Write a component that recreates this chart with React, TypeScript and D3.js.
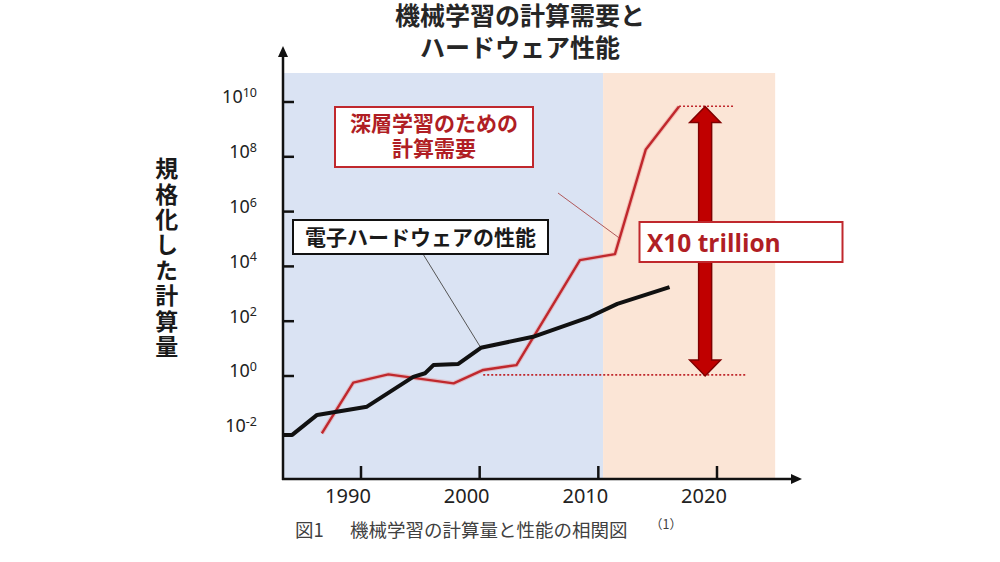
import React from "react";
import * as d3 from "d3";

// ---- Data ----
const titleLines = ["機械学習の計算需要と", "ハードウェア性能"];
const yAxisLabel = "規格化した計算量";
const yTickExponents = [10, 8, 6, 4, 2, 0, -2];
const yTickMarks = [1e10, 1e8, 1e6, 1e4, 1e2, 1];
const xTickYears = [1990, 2000, 2010, 2020];
const eraBounds = [1983.4, 2010.4, 2024.9];

// Electronic hardware performance (black)
const hwYears = [1983.4, 1984.2, 1986.3, 1990.5, 1994.4, 1995.4, 1996.1, 1998.2, 2000.1, 2004.5, 2009.3, 2011.6, 2016.0];
const hwValues = [0.0071, 0.0071, 0.038, 0.076, 0.93, 1.26, 2.5, 2.75, 10.7, 27, 145, 427, 1740];

// Deep learning compute demand (red)
const dlYears = [1986.7, 1989.35, 1992.3, 1997.8, 2000.3, 2003.1, 2008.45, 2011.4, 2014.0, 2016.8];
const dlValues = [0.0081, 0.575, 1.15, 0.54, 1.66, 2.5, 17000, 28000, 1.86e8, 6.8e9];

// Reference (dotted) levels and the x10 trillion arrow
const topRefYears = [2016.8, 2021.35];
const topRefValue = 7.0e9;
const bottomRefYears = [2000.3, 2022.4];
const bottomRefValue = 1.1;
const arrowYear = 2019;
const arrowValues = [1, 6.8e9];

// Leader lines (data-space targets)
const hwLeaderTarget = { year: 2000.1, value: 10.7 };
const dlLeaderTarget = { year: 2011.75, value: 1.1e5 };

const legendDL = ["深層学習のための", "計算需要"];
const legendHW = "電子ハードウェアの性能";
const ratioLabel = "X10 trillion";
const captionMain = "機械学習の計算量と性能の相関図";

const JP = "'Noto Sans CJK JP', 'Noto Sans', sans-serif";
const LAT = "'Noto Sans', 'Open Sans', sans-serif";

export default function App() {
  const x = d3.scaleLinear().domain([1990, 2020]).range([361, 717]);
  const y = d3.scaleLog().domain([1, 1e10]).range([376, 102]);

  const axisX = 283;
  const axisY = 479;
  const plotTop = 73;

  const line = d3
    .line<[number, number]>()
    .x((d) => x(d[0]))
    .y((d) => y(d[1]));

  const hwPts = hwYears.map((yr, i) => [yr, hwValues[i]] as [number, number]);
  const dlPts = dlYears.map((yr, i) => [yr, dlValues[i]] as [number, number]);

  const red = "#c0282d";
  const darkRed = "#b01e24";

  // Arrow polygon
  const cx = x(arrowYear);
  const yT = y(arrowValues[1]);
  const yB = y(arrowValues[0]);
  const hw = 15.5;
  const sw = 6.5;
  const hl = 16;
  const arrowPts = [
    [cx, yT],
    [cx + hw, yT + hl],
    [cx + sw, yT + hl],
    [cx + sw, yB - hl],
    [cx + hw, yB - hl],
    [cx, yB],
    [cx - hw, yB - hl],
    [cx - sw, yB - hl],
    [cx - sw, yT + hl],
    [cx - hw, yT + hl],
  ]
    .map((p) => p.join(","))
    .join(" ");

  return (
    <svg
      width={1000}
      height={562}
      style={{ position: "absolute", left: 0, top: 0, background: "#fff" }}
    >
      {/* Title */}
      <text
        textAnchor="middle"
        fontFamily={JP}
        fontWeight={700}
        fontSize={25}
        fill="#262626"
      >
        {titleLines.map((t, i) => (
          <tspan key={t} x={520} y={24.5 + i * 32.5}>
            {t}
          </tspan>
        ))}
      </text>

      {/* Era backgrounds */}
      <rect
        x={x(eraBounds[0])}
        y={plotTop}
        width={x(eraBounds[1]) - x(eraBounds[0])}
        height={axisY - plotTop}
        fill="#dae3f3"
      />
      <rect
        x={x(eraBounds[1])}
        y={plotTop}
        width={x(eraBounds[2]) - x(eraBounds[1])}
        height={axisY - plotTop}
        fill="#fbe5d6"
      />

      {/* Y axis label (vertical) */}
      <text
        x={166.7}
        y={157}
        style={{ writingMode: "vertical-rl" as any, letterSpacing: "2.4px" }}
        fontFamily={JP}
        fontWeight={700}
        fontSize={23}
        fill="#1a1a1a"
      >
        {yAxisLabel}
      </text>

      {/* Y tick labels */}
      {yTickExponents.map((e) => {
        const ty = y(Math.pow(10, e));
        return (
          <text
            key={e}
            x={257}
            y={ty + 1.4}
            textAnchor="end"
            fontFamily={LAT}
            fontSize={18}
            fill="#222"
          >
            <tspan>10</tspan>
            <tspan dy={-6.5} fontSize={12.5}>
              {e < 0 ? `-${Math.abs(e)}` : `${e}`}
            </tspan>
          </text>
        );
      })}

      {/* Y tick marks */}
      {yTickMarks.map((v) => (
        <line
          key={v}
          x1={axisX}
          x2={axisX + 11}
          y1={y(v)}
          y2={y(v)}
          stroke="#111"
          strokeWidth={2.5}
        />
      ))}

      {/* X tick marks and labels */}
      {xTickYears.map((yr) => (
        <g key={yr}>
          <line
            x1={x(yr)}
            x2={x(yr)}
            y1={axisY}
            y2={axisY - 13}
            stroke="#111"
            strokeWidth={2.5}
          />
          <text
            x={x(yr) - 13}
            y={503}
            textAnchor="middle"
            fontFamily={LAT}
            fontSize={20}
            fill="#222"
          >
            {yr}
          </text>
        </g>
      ))}

      {/* Dotted reference lines */}
      <line
        x1={x(topRefYears[0])}
        x2={x(topRefYears[1])}
        y1={y(topRefValue)}
        y2={y(topRefValue)}
        stroke={red}
        strokeWidth={1.6}
        strokeDasharray="2 2"
      />
      <line
        x1={x(bottomRefYears[0])}
        x2={x(bottomRefYears[1])}
        y1={y(bottomRefValue)}
        y2={y(bottomRefValue)}
        stroke={red}
        strokeWidth={1.6}
        strokeDasharray="2 2"
      />

      {/* Leader lines */}
      <line
        x1={423}
        y1={254}
        x2={x(hwLeaderTarget.year)}
        y2={y(hwLeaderTarget.value)}
        stroke="#555"
        strokeWidth={1}
      />
      <line
        x1={558}
        y1={193}
        x2={x(dlLeaderTarget.year)}
        y2={y(dlLeaderTarget.value)}
        stroke="#b0585a"
        strokeWidth={1}
      />

      {/* DL compute line (red) */}
      <path
        d={line(dlPts) || ""}
        fill="none"
        stroke="rgba(230,120,120,0.35)"
        strokeWidth={4.5}
        strokeLinejoin="round"
      />
      <path
        d={line(dlPts) || ""}
        fill="none"
        stroke={red}
        strokeWidth={2.4}
        strokeLinejoin="round"
      />

      {/* HW performance line (black) */}
      <path
        d={line(hwPts) || ""}
        fill="none"
        stroke="#111"
        strokeWidth={4}
        strokeLinejoin="round"
      />

      {/* Double arrow */}
      <polygon points={arrowPts} fill="#c00000" stroke="#800000" strokeWidth={1.5} />

      {/* X10 trillion box */}
      <rect x={639.5} y={222} width={203} height={40} fill="#fff" stroke={red} strokeWidth={2} />
      <text
        x={647}
        y={251.5}
        fontFamily="'Open Sans', 'Noto Sans', sans-serif"
        fontWeight={700}
        fontSize={24.5}
        fill={darkRed}
      >
        {ratioLabel}
      </text>

      {/* Legend: DL compute */}
      <rect x={335} y={107} width={198} height={60} fill="#fff" stroke={red} strokeWidth={2} />
      <text
        textAnchor="middle"
        fontFamily={JP}
        fontWeight={700}
        fontSize={21}
        fill={darkRed}
      >
        {legendDL.map((t, i) => (
          <tspan key={t} x={434} y={131.2 + i * 25}>
            {t}
          </tspan>
        ))}
      </text>

      {/* Legend: HW performance */}
      <rect x={293} y={220} width={255} height={34} fill="#fff" stroke="#111" strokeWidth={2} />
      <text
        x={420.5}
        y={244.6}
        textAnchor="middle"
        fontFamily={JP}
        fontWeight={700}
        fontSize={21}
        fill="#1a1a1a"
      >
        {legendHW}
      </text>

      {/* Axes */}
      <line x1={axisX} x2={axisX} y1={axisY + 1} y2={54} stroke="#111" strokeWidth={2.5} />
      <polygon
        points={`${axisX},46 ${axisX - 5},57 ${axisX + 5},57`}
        fill="#111"
      />
      <line x1={axisX - 1} x2={794} y1={axisY} y2={axisY} stroke="#111" strokeWidth={2.5} />
      <polygon
        points={`802,${axisY} 791,${axisY - 5} 791,${axisY + 5}`}
        fill="#111"
      />

      {/* Caption */}
      <text x={295} y={537} fontFamily={JP} fontSize={18.5} fill="#404040">
        図1
      </text>
      <text x={350} y={537} fontFamily={JP} fontSize={18.5} fill="#404040">
        {captionMain}
      </text>
      <text x={650} y={529} fontFamily={JP} fontSize={12.5} fill="#404040">
        （1）
      </text>
    </svg>
  );
}
